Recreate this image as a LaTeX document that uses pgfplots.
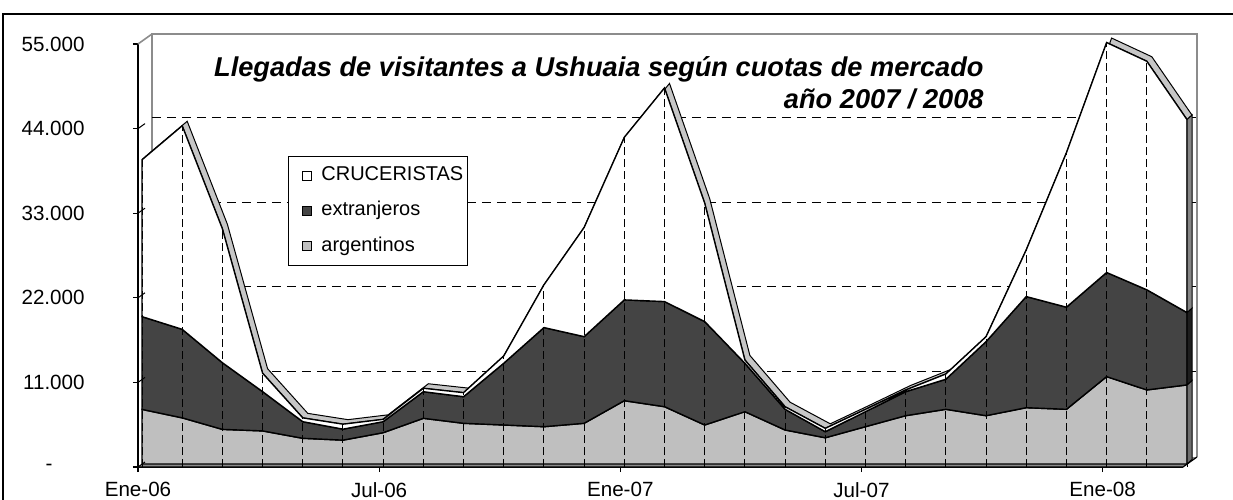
\documentclass[border=0pt]{standalone}
\usepackage{fontspec}
\setmainfont{Liberation Sans}
\usepackage{pgfplots}
\usepackage{pgfplotstable}
\pgfplotsset{compat=1.18}
\usetikzlibrary{calc}

\definecolor{cArg}{HTML}{BFBFBF}
\definecolor{cExt}{HTML}{444444}
\definecolor{cRib}{HTML}{C6C6C6}
\definecolor{cWall}{HTML}{8C8C8C}
\definecolor{cFloor}{HTML}{8A8A8A}
\definecolor{sCru}{HTML}{858585}
\definecolor{sExt}{HTML}{1E1E1E}
\definecolor{sArg}{HTML}{6E6E6E}

% monthly arrivals, Jan-06 .. Mar-08
\pgfplotstableread{
m  arg   ext   cru
0  7100  12060 20400
1  6000  11510 26470
2  4500  8670  17420
3  4300  5110  2400
4  3340  2160  500
5  3100  1430  650
6  4070  1430  310
7  5940  3460  450
8  5290  3460  530
9  5070  8030  950
10 4850  12890 5560
11 5290  11270 14200
12 8230  13110 21140
13 7450  13670 27780
14 5070  13450 15400
15 6800  6300  430
16 4420  2690  340
17 3410  790   440
18 4850  1950  310
19 6280  3120  230
20 7110  3910  690
21 6280  9630  650
22 7320  14450 6080
23 7110  13280 20090
24 11360 13540 29900
25 9630  13020 29720
26 10280 9410  25090
}\visitas

% last row, for the end faces of the 3d areas
\pgfplotstablegetelem{26}{arg}\of\visitas \edef\la{\pgfplotsretval}
\pgfplotstablegetelem{26}{ext}\of\visitas \edef\le{\pgfplotsretval}
\pgfplotstablegetelem{26}{cru}\of\visitas \edef\lc{\pgfplotsretval}
\edef\yA{\the\numexpr390+\la\relax}
\edef\yE{\the\numexpr\yA+\le\relax}
\edef\yT{\the\numexpr\yE+\lc\relax}
\edef\bA{\the\numexpr\yA+585\relax}
\edef\bE{\the\numexpr\yE+585\relax}
\edef\bT{\the\numexpr\yT+585\relax}

\begin{document}
\begin{tikzpicture}
\begin{axis}[
  at={(0pt,0pt)}, anchor=south west,
  scale only axis, width=522.5pt, height=211.5pt,
  xmin=0, xmax=26, ymin=0, ymax=55000,
  clip=false,
  axis lines=left, axis line style={-, black, line width=0.6pt},
  scaled y ticks=false,
  xtick={0,6,12,18,24},
  xticklabels={Ene-06,Jul-06,Ene-07,Jul-07,Ene-08},
  ytick={0,11000,22000,33000,44000,55000},
  yticklabels={{-\hspace*{16pt}},11.000,22.000,33.000,44.000,55.000},
  tick align=outside, major tick length=2.5pt,
  tick style={black, line width=0.6pt},
  ticklabel style={font=\fontsize{10.3}{12}\selectfont, inner sep=0pt},
  yticklabel style={anchor=east, xshift=-24pt},
  xticklabel style={anchor=north, yshift=-5pt},
]
% back wall, its gridlines and the floor (plotted first so the areas hide them)
\addplot[fill=cFloor, draw=none, forget plot] coordinates {(0,0) (0.348,1300) (26.348,1300) (26,0)} \closedcycle;
\addplot[cWall, line width=0.8pt, forget plot] coordinates {(0.348,1300) (0.348,56300) (26.348,56300) (26.348,1300)};
\addplot[cWall, line width=0.8pt, forget plot] coordinates {(0,55000) (0.348,56300)};
\addplot[black, line width=0.5pt, dash pattern=on 4.5pt off 3pt, forget plot] coordinates {(0.348,12430) (26.348,12430)};
\addplot[black, line width=0.5pt, dash pattern=on 4.5pt off 3pt, forget plot] coordinates {(0.348,23430) (26.348,23430)};
\addplot[black, line width=0.5pt, dash pattern=on 4.5pt off 3pt, forget plot] coordinates {(0.348,34430) (26.348,34430)};
\addplot[black, line width=0.5pt, dash pattern=on 4.5pt off 3pt, forget plot] coordinates {(0.348,45430) (26.348,45430)};

% top face of the stack: front edge, then back edge stacked on it
\addplot[draw=none, stack plots=y, forget plot] table[x expr=\thisrow{m}+0.1,
  y expr=\thisrow{arg}+\thisrow{ext}+\thisrow{cru}+390]{\visitas};
\addplot[fill=cRib, draw=black, line width=0.5pt, stack plots=y, forget plot]
  table[x expr=\thisrow{m}+0.224, y expr=585]{\visitas} \closedcycle;

% front faces, stacked on a base brought back to the depth of the areas
\addplot[draw=none, stack plots=y, forget plot] table[x expr=\thisrow{m}+0.1,
  y expr=-\thisrow{arg}-\thisrow{ext}-\thisrow{cru}-585]{\visitas};
\addplot[fill=cArg, draw=black, line width=0.7pt, stack plots=y, forget plot]
  table[x expr=\thisrow{m}+0.1, y=arg]{\visitas} \closedcycle;
\addplot[fill=cExt, draw=black, line width=0.7pt, stack plots=y, forget plot]
  table[x expr=\thisrow{m}+0.1, y=ext]{\visitas} \closedcycle;
\addplot[fill=white, draw=black, line width=0.7pt, stack plots=y, forget plot]
  table[x expr=\thisrow{m}+0.1, y=cru]{\visitas} \closedcycle;

% drop lines
\addplot[ycomb, black, line width=0.5pt, dash pattern=on 4pt off 2pt, mark=none, forget plot]
  table[x expr=\thisrow{m}+0.1, y expr=\thisrow{arg}+\thisrow{ext}+\thisrow{cru}+390]{\visitas};

% end faces
\filldraw[fill=sArg, draw=black, line width=0.5pt] (axis cs:26.1,390) -- (axis cs:26.1,\yA)
  -- (axis cs:26.224,\bA) -- (axis cs:26.224,975) -- cycle;
\filldraw[fill=sExt, draw=black, line width=0.5pt] (axis cs:26.1,\yA) -- (axis cs:26.1,\yE)
  -- (axis cs:26.224,\bE) -- (axis cs:26.224,\bA) -- cycle;
\filldraw[fill=sCru, draw=black, line width=0.5pt] (axis cs:26.1,\yE) -- (axis cs:26.1,\yT)
  -- (axis cs:26.224,\bT) -- (axis cs:26.224,\bE) -- cycle;

% side wall ticks and front edge of the floor
\pgfplotsinvokeforeach{0,11000,22000,33000,44000}{
  \draw[black, line width=0.5pt] (axis cs:0,#1) -- ++(3.5pt,2.5pt);
}
\draw[black, line width=0.6pt] (axis cs:0,0) -- (axis cs:26,0) -- ($(axis cs:26,0)+(7pt,5pt)$);
\end{axis}

% legend
\draw[black, line width=0.5pt, fill=white] (75.5pt,101pt) rectangle (164.5pt,155pt);
\begin{scope}[font=\fontsize{10}{12}\selectfont]
\draw[black, line width=0.5pt, fill=white] (82pt,143.2pt) rectangle (86.5pt,147.7pt);
\node[anchor=base west, inner sep=0pt] at (91.5pt,143pt) {CRUCERISTAS};
\draw[black, line width=0.5pt, fill=cExt] (82pt,125.7pt) rectangle (86.5pt,130.2pt);
\node[anchor=base west, inner sep=0pt] at (91.5pt,125.5pt) {extranjeros};
\draw[black, line width=0.5pt, fill=cArg] (82pt,108.2pt) rectangle (86.5pt,112.7pt);
\node[anchor=base west, inner sep=0pt] at (91.5pt,108pt) {argentinos};
\end{scope}

\node[anchor=base east, inner sep=0pt, font=\fontsize{13.6}{16}\selectfont\bfseries\itshape]
  at (423pt,195.2pt) {Llegadas de visitantes a Ushuaia según cuotas de mercado};
\node[anchor=base east, inner sep=0pt, font=\fontsize{13.6}{16}\selectfont\bfseries\itshape]
  at (423pt,179.3pt) {año 2007 / 2008};

\draw[black, line width=0.75pt] (-67.5pt,-30pt) -- (-67.5pt,226.5pt) -- (560pt,226.5pt);
\pgfresetboundingbox
\path[use as bounding box] (-69pt,-16pt) rectangle (547.5pt,233.5pt);
\end{tikzpicture}
\end{document}
